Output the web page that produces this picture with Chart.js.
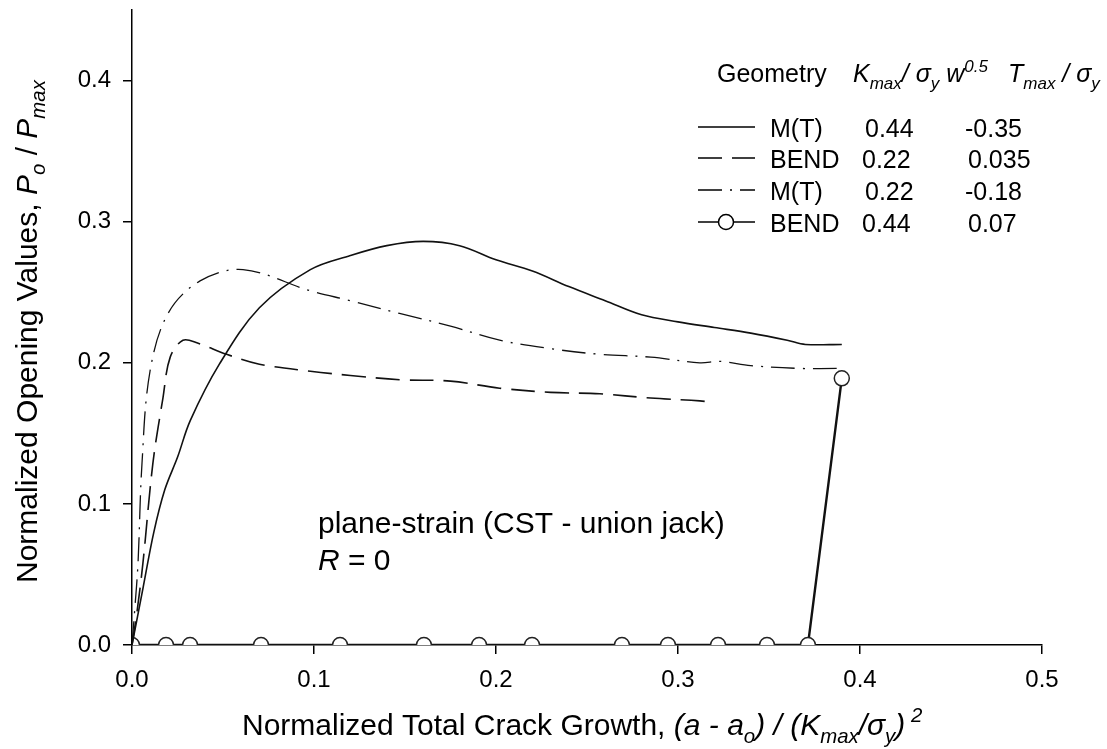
<!DOCTYPE html>
<html><head><meta charset="utf-8">
<script src="https://cdn.jsdelivr.net/npm/chart.js@4/dist/chart.umd.min.js"></script>
<style>html,body{margin:0;padding:0;background:#fff}#wrap{width:1107px;height:749px}</style>
</head><body><div id="wrap"><canvas id="c" width="1107" height="749"></canvas></div>
<script>
// ---- data ----
const mt44X = [0, 0.006, 0.012, 0.018, 0.025, 0.032, 0.048, 0.070, 0.098, 0.12, 0.14, 0.16, 0.18, 0.20, 0.22, 0.24, 0.26, 0.28, 0.30, 0.32, 0.34, 0.36, 0.37, 0.39];
const mt44Y = [0, 0.040, 0.080, 0.110, 0.133, 0.159, 0.199, 0.239, 0.266, 0.276, 0.283, 0.286, 0.283, 0.273, 0.265, 0.254, 0.244, 0.234, 0.229, 0.225, 0.221, 0.216, 0.213, 0.213];
const bend22X = [0, 0.0027, 0.006, 0.0115, 0.017, 0.021, 0.028, 0.036, 0.052, 0.070, 0.098, 0.12, 0.147, 0.175, 0.202, 0.23, 0.257, 0.285, 0.312, 0.319];
const bend22Y = [0, 0.023, 0.058, 0.129, 0.175, 0.204, 0.216, 0.214, 0.206, 0.199, 0.194, 0.191, 0.188, 0.187, 0.182, 0.179, 0.178, 0.175, 0.173, 0.172];
const mt22X = [0, 0.0015, 0.0033, 0.0055, 0.0099, 0.0198, 0.0374, 0.061, 0.098, 0.12, 0.147, 0.175, 0.202, 0.23, 0.257, 0.285, 0.312, 0.323, 0.34, 0.367, 0.389];
const mt22Y = [0, 0.025, 0.058, 0.129, 0.194, 0.235, 0.258, 0.266, 0.251, 0.244, 0.235, 0.226, 0.216, 0.210, 0.206, 0.204, 0.200, 0.201, 0.198, 0.196, 0.196];
const bend44X = [0, 0.0187, 0.0319, 0.0709, 0.1143, 0.1604, 0.1907, 0.2198, 0.2692, 0.2945, 0.3220, 0.3489, 0.3714, 0.390];
const bend44Y = [0, 0, 0, 0, 0, 0, 0, 0, 0, 0, 0, 0, 0, 0.189];
const xTicks = [0, 0.1, 0.2, 0.3, 0.4, 0.5];
const yTicks = [0, 0.1, 0.2, 0.3, 0.4];
const legendGeometry = ['M(T)', 'BEND', 'M(T)', 'BEND'];
const legendK = ['0.44', '0.22', '0.22', '0.44'];
const legendT = ['-0.35', '0.035', '-0.18', '0.07'];
const noteLine1 = 'plane-strain (CST - union jack)';

const pts = (xs, ys) => xs.map((x, i) => ({x, y: ys[i]}));
const FONT = '"Liberation Sans", Arial, sans-serif';

function drawRuns(ctx, runs, x, y, size, align) {
  const parts = runs.map(r => {
    const s = r.sub || r.sup ? size * 0.68 : size;
    const f = (r.it ? 'italic ' : '') + s + 'px ' + FONT;
    ctx.font = f;
    return {r, f, w: ctx.measureText(r.t).width, dy: r.sub ? size * 0.28 : (r.sup ? -size * 0.42 : 0)};
  });
  const total = parts.reduce((a, p) => a + p.w, 0);
  let cx = align === 'center' ? x - total / 2 : (align === 'right' ? x - total : x);
  ctx.textAlign = 'left';
  ctx.textBaseline = 'alphabetic';
  for (const p of parts) {
    ctx.font = p.f;
    ctx.fillText(p.r.t, cx, y + p.dy);
    cx += p.w;
  }
}

const decor = {
  id: 'decor',
  afterDraw(chart) {
    const ctx = chart.ctx;
    ctx.save();
    ctx.fillStyle = '#000';
    // x title
    drawRuns(ctx, [
      {t: 'Normalized Total Crack Growth, '},
      {t: '(a - a', it: 1}, {t: 'o', it: 1, sub: 1},
      {t: ') / (K', it: 1}, {t: 'max', it: 1, sub: 1},
      {t: '/σ', it: 1}, {t: 'y', it: 1, sub: 1}, {t: ')', it: 1},
      {t: ' 2', it: 1, sup: 1}
    ], 242, 735, 30, 'left');
    // y title
    ctx.save();
    ctx.translate(37, 583);
    ctx.rotate(-Math.PI / 2);
    drawRuns(ctx, [
      {t: 'Normalized Opening Values, '},
      {t: 'P', it: 1}, {t: 'o', it: 1, sub: 1}, {t: ' / '},
      {t: 'P', it: 1}, {t: 'max', it: 1, sub: 1}
    ], 0, 0, 30, 'left');
    ctx.restore();
    // legend header
    drawRuns(ctx, [{t: 'Geometry'}], 717, 82, 25, 'left');
    drawRuns(ctx, [{t: 'K', it: 1}, {t: 'max', it: 1, sub: 1}, {t: '/ σ', it: 1}, {t: 'y', it: 1, sub: 1}, {t: ' w', it: 1}, {t: '0.5', it: 1, sup: 1}], 853, 82, 25, 'left');
    drawRuns(ctx, [{t: 'T', it: 1}, {t: 'max', it: 1, sub: 1}, {t: ' / σ', it: 1}, {t: 'y', it: 1, sub: 1}], 1008, 82, 25, 'left');
    // legend rows
    const ds = chart.data.datasets;
    const rowY = [127, 158, 190, 222];
    for (let i = 0; i < 4; i++) {
      const d = ds[i];
      const y = rowY[i];
      ctx.save();
      ctx.strokeStyle = '#000';
      ctx.lineWidth = 1.5;
      ctx.setLineDash(d.borderDash || []);
      ctx.beginPath(); ctx.moveTo(698, y); ctx.lineTo(755, y); ctx.stroke();
      ctx.setLineDash([]);
      if (d.pointRadius > 0) {
        ctx.beginPath(); ctx.arc(726, y, 7.5, 0, Math.PI * 2);
        ctx.fillStyle = '#fff'; ctx.fill(); ctx.lineWidth = 1.5; ctx.stroke();
      }
      ctx.restore();
      ctx.fillStyle = '#000';
      drawRuns(ctx, [{t: legendGeometry[i]}], 770, y + 10, 25, 'left');
      drawRuns(ctx, [{t: legendK[i]}], legendGeometry[i] === 'M(T)' ? 865 : 862, y + 10, 25, 'left');
      drawRuns(ctx, [{t: legendT[i]}], legendT[i].startsWith('-') ? 965 : 968, y + 10, 25, 'left');
    }
    // note
    drawRuns(ctx, [{t: noteLine1}], 318, 533, 30, 'left');
    drawRuns(ctx, [{t: 'R', it: 1}, {t: ' = 0'}], 318, 570, 30, 'left');
    ctx.restore();
  }
};

new Chart(document.getElementById('c'), {
  type: 'line',
  data: {
    datasets: [
      {label: 'M(T) 0.44', data: pts(mt44X, mt44Y), borderColor: '#111', borderWidth: 1.6, pointRadius: 0, tension: 0.35, fill: false},
      {label: 'BEND 0.22', data: pts(bend22X, bend22Y), borderColor: '#111', borderWidth: 1.6, borderDash: [24, 10], pointRadius: 0, tension: 0.35, fill: false},
      {label: 'M(T) 0.22', data: pts(mt22X, mt22Y), borderColor: '#111', borderWidth: 1.3, borderDash: [24, 8, 2, 8], pointRadius: 0, tension: 0.35, fill: false},
      {label: 'BEND 0.44', data: pts(bend44X, bend44Y), borderColor: '#111', borderWidth: 2.4, pointRadius: 7.5, pointBorderWidth: 1.5, pointBackgroundColor: '#fff', pointBorderColor: '#222', tension: 0, fill: false}
    ]
  },
  options: {
    responsive: false,
    animation: false,
    events: [],
    layout: {padding: {top: 10, right: 65, bottom: 0, left: 0}},
    plugins: {legend: {display: false}, tooltip: {enabled: false}},
    scales: {
      x: {
        type: 'linear', min: 0, max: 0.5,
        border: {display: true, color: '#000', width: 1.5},
        grid: {display: true, drawOnChartArea: false, drawTicks: true, tickLength: 9, color: '#000', lineWidth: 1.5},
        afterBuildTicks: s => { s.ticks = xTicks.map(v => ({value: v})); },
        afterFit: s => { s.height = 104; s.paddingLeft = 0; s.paddingRight = 0; },
        ticks: {color: '#000', font: {family: FONT, size: 24}, padding: 12, maxRotation: 0, callback: v => v.toFixed(1)}
      },
      y: {
        type: 'linear', min: 0, max: 0.45,
        border: {display: true, color: '#000', width: 1.5},
        grid: {display: true, drawOnChartArea: false, drawTicks: true, tickLength: 9, color: '#000', lineWidth: 1.5},
        afterBuildTicks: s => { s.ticks = yTicks.map(v => ({value: v})); },
        afterFit: s => { s.width = 132; s.paddingTop = 0; s.paddingBottom = 0; },
        ticks: {color: '#000', font: {family: FONT, size: 24}, padding: 12, callback: v => v.toFixed(1)}
      }
    }
  },
  plugins: [decor]
});
</script></body></html>
